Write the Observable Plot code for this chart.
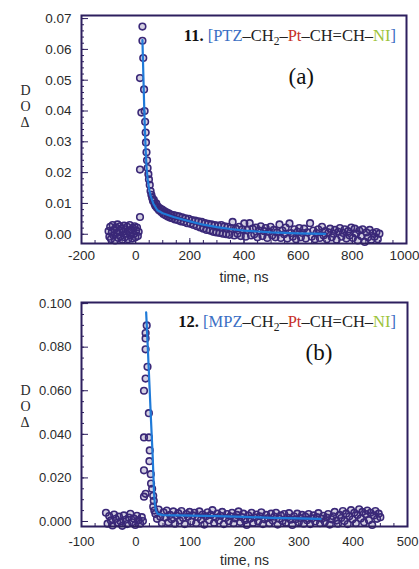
<!DOCTYPE html>
<html><head><meta charset="utf-8">
<script src="https://cdn.jsdelivr.net/npm/d3@7"></script>
<script src="https://cdn.jsdelivr.net/npm/@observablehq/plot@0.6"></script>
<style>
body{margin:0;background:#fff;}
#wrap{position:relative;width:419px;height:569px;overflow:hidden;background:#fff;}
#pa{position:absolute;left:0;top:0;}
#pb{position:absolute;left:0;top:290px;}
</style></head><body><div id="wrap"><div id="pa"></div><div id="pb"></div></div>
<script>
// ---------- Panel (a) data: 11. [PTZ–CH2–Pt–CH=CH–NI] ----------
const aTime = [-100,-97,-94,-91,-88,-85,-82,-79,-76,-73,-70,-67,-64,-61,-58,-55,-52,-49,-46,-43,-40,-37,-34,-31,-28,-25,-22,-19,-16,-13,-10,-7,-4,-1,2,5,8,11,
16,16,16,21,25,25,28,31,33,35,37,38,40,42,44,47,49,52,55,58,61,64,67,70,73,76,79,82,86,90,94,98,102,106,110,114,118,122,126,130,135,140,145,150,155,160,166,172,178,184,190,196,202,208,214,220,226,232,238,244,250,256,262,268,274,280,286,292,298,304,310,316,322,328,334,340,346,352,358,364,370,376,382,388,394,401,406,412,421,426,432,438,444,450,456,462,468,474,480,486,492,498,504,510,516,522,531,536,542,548,554,560,568,574,580,586,592,598,604,610,616,622,628,634,644,650,656,662,668,674,680,688,694,700,706,712,718,724,730,736,742,748,754,760,766,772,778,784,790,796,802,809,814,820,826,832,838,846,852,858,864,870,876,882,889,894,900];
const aDOD = [0.0010,-0.0008,0.0024,-0.0015,0.0006,0.0030,-0.0004,0.0015,-0.0020,0.0022,0.0004,0.0032,-0.0012,0.0012,0.0026,-0.0006,0.0018,-0.0018,0.0008,0.0028,-0.0010,0.0016,0.0002,0.0024,-0.0016,0.0010,0.0030,-0.0004,0.0014,-0.0014,0.0020,0.0000,0.0026,-0.0010,0.0012,0.0022,-0.0006,0.0008,
0.0056,0.0210,0.0507,0.0395,0.0674,0.0628,0.0572,0.0470,0.0400,0.0365,0.0330,0.0298,0.0266,0.0240,0.0215,0.0195,0.0178,0.0160,0.0140,0.0128,0.0118,0.0108,0.0112,0.0098,0.0092,0.0100,0.0085,0.0090,0.0078,0.0084,0.0072,0.0080,0.0066,0.0075,0.0062,0.0071,0.0058,0.0068,0.0054,0.0064,0.0052,0.0062,0.0048,0.0060,0.0046,0.0058,0.0042,0.0055,0.0040,0.0052,0.0036,0.0050,0.0034,0.0046,0.0030,0.0044,0.0026,0.0042,0.0022,0.0040,0.0018,0.0036,0.0014,0.0034,0.0012,0.0032,0.0008,0.0030,0.0006,0.0028,0.0004,0.0030,0.0002,0.0026,0.0000,0.0024,-0.0002,0.0020,0.0040,-0.0004,0.0018,0.0002,0.0024,-0.0006,0.0016,0.0035,-0.0008,0.0014,0.0036,-0.0004,0.0018,0.0000,0.0022,-0.0010,0.0012,0.0026,-0.0006,0.0010,0.0020,-0.0012,0.0008,0.0024,-0.0004,0.0014,-0.0010,0.0006,0.0032,-0.0012,0.0012,0.0000,0.0022,-0.0014,0.0035,0.0004,-0.0008,0.0016,-0.0016,0.0008,0.0020,-0.0010,0.0004,0.0018,-0.0014,0.0006,0.0036,-0.0008,0.0012,-0.0016,0.0004,0.0016,-0.0012,0.0024,-0.0004,0.0010,-0.0016,0.0006,0.0018,-0.0010,0.0002,0.0014,-0.0018,0.0008,0.0020,-0.0008,0.0004,0.0016,-0.0014,0.0010,-0.0004,0.0022,-0.0012,0.0018,0.0002,-0.0020,0.0012,-0.0006,0.0016,-0.0025,0.0006,-0.0010,0.0014,-0.0018,0.0004,-0.0008,0.0007,-0.0016,0.0002];
const aFitTime = [25,28,31,34,37,40,44,50,55,65,80,100,140,200,250,300,350,400,450,500,600,700];
const aFitDOD = [0.0630,0.0530,0.0430,0.0340,0.0270,0.0220,0.0180,0.0145,0.0125,0.0100,0.0078,0.0068,0.0056,0.0042,0.0031,0.0023,0.0017,0.0012,0.0009,0.0006,0.0003,0.0001];
const aXTicks = [-200,0,200,400,600,800,1000];
const aYTicks = [0,0.01,0.02,0.03,0.04,0.05,0.06,0.07];

// ---------- Panel (b) data: 12. [MPZ–CH2–Pt–CH=CH–NI] ----------
const bTime = [-55,-52,-49,-46,-43,-40,-37,-34,-31,-28,-25,-22,-19,-16,-13,-10,-7,-4,-1,2,5,8,11,13,
15,15,15,15,18,18,18,18,18,20,21.5,24,24,25,25.6,27.5,28,30,32,32,33,34,
36,39,42,45,48,51,54,57,60,63,66,69,72,75,78,81,84,87,90,93,96,99,102,105,108,111,114,117,120,123,126,129,132,135,138,141,144,147,150,153,156,159,162,165,168,171,174,177,180,183,186,189,192,195,198,201,204,207,210,213,216,219,222,225,228,231,234,237,240,243,246,249,252,255,258,261,264,267,270,273,276,279,282,285,288,291,294,297,300,303,306,309,312,315,318,321,324,327,330,333,336,339,342,345,348,351,354,357,360,363,366,369,372,375,378,381,384,387,390,393,396,399,402,405,408,411,414,417,420,423,426,429,432,435,438,441,444,447,450];
const bDOD = [0.0040,-0.0010,0.0025,0.0005,-0.0018,0.0032,0.0012,-0.0006,0.0022,0.0000,-0.0020,0.0028,0.0008,-0.0012,0.0018,0.0035,-0.0004,0.0014,-0.0016,0.0026,0.0006,-0.0010,0.0020,0.0002,
0.0114,0.0235,0.0386,0.0600,0.0127,0.0656,0.0790,0.0840,0.0865,0.0900,0.0710,0.0497,0.0386,0.0277,0.0326,0.0217,0.0174,0.0150,0.0118,0.0068,0.0095,0.0050,
0.0035,0.0012,0.0055,0.0022,-0.0008,0.0042,0.0018,0.0050,-0.0004,0.0030,0.0010,0.0046,-0.0010,0.0026,0.0038,0.0004,0.0048,0.0016,-0.0012,0.0034,0.0022,0.0044,0.0000,0.0028,0.0040,-0.0008,0.0020,0.0046,0.0008,0.0032,-0.0014,0.0024,0.0042,0.0006,0.0030,0.0052,-0.0006,0.0018,0.0036,0.0004,0.0026,0.0044,-0.0012,0.0016,0.0034,0.0002,0.0024,0.0040,-0.0008,0.0014,0.0030,0.0046,-0.0002,0.0020,0.0036,0.0006,-0.0016,0.0028,0.0012,0.0040,-0.0006,0.0018,0.0032,0.0000,0.0024,0.0042,-0.0012,0.0010,0.0030,0.0016,-0.0008,0.0036,0.0004,0.0022,0.0040,-0.0014,0.0012,0.0028,0.0002,0.0034,-0.0006,0.0018,0.0038,0.0008,-0.0016,0.0024,0.0010,0.0036,-0.0004,0.0016,0.0030,-0.0010,0.0022,0.0006,0.0034,-0.0012,0.0014,0.0028,0.0000,0.0020,0.0038,-0.0008,0.0012,0.0026,-0.0002,0.0018,0.0034,-0.0014,0.0010,0.0024,0.0044,0.0004,-0.0010,0.0030,0.0016,0.0048,0.0002,0.0036,-0.0012,0.0024,0.0052,0.0010,0.0040,-0.0008,0.0030,0.0056,0.0014,0.0044,-0.0004,0.0034,0.0050,0.0006,0.0040,-0.0016,0.0028,0.0048,0.0012,0.0036,0.0020];
const bFitTime = [19,22,25,28,31,33.5,35,37,40,50,100,150,200,250,300,340];
const bFitDOD = [0.0960,0.0800,0.0630,0.0460,0.0300,0.0130,0.0080,0.0050,0.0035,0.0029,0.0027,0.0025,0.0021,0.0017,0.0014,0.0012];
const bXTicks = [-100,0,100,200,300,400,500];
const bYTicks = [0,0.02,0.04,0.06,0.08,0.10];

const DOT = "#3a2878", FIT = "#1f7ad8", FRAME = "#2d1f5e", INK = "#2a2a2a";

function panel(o) {
  const pts = o.t.map((t, i) => ({t, v: o.v[i]}));
  const fit = o.ft.map((t, i) => ({t, v: o.fv[i]}));
  const last = o.xt[o.xt.length - 1];
  const svg = Plot.plot({
    width: 419, height: o.height,
    marginLeft: 81, marginRight: o.mr, marginTop: o.mt, marginBottom: o.mb,
    style: {fontFamily: "Liberation Sans, Arial, sans-serif", background: "white", color: INK},
    x: {domain: o.xd},
    y: {domain: o.yd},
    marks: [
      Plot.axisY({ticks: o.yMinor, tickSize: 3, dx: 3, fill: "none", stroke: FRAME, label: null}),
      Plot.axisY({ticks: o.yt, tickSize: 7, dx: 7, fill: "none", stroke: FRAME, label: null}),
      Plot.axisY({ticks: o.yt, tickSize: 0, tickPadding: 10, tickFormat: o.yFmt, fontSize: o.fs, fill: INK, label: null}),
      Plot.axisX({ticks: o.xMinor, tickSize: 3, dy: -3, fill: "none", stroke: FRAME, label: null}),
      Plot.axisX({ticks: o.xt, tickSize: 5, dy: -5, fill: "none", stroke: FRAME, label: null}),
      Plot.axisX({ticks: o.xt.slice(0, -1), tickSize: 0, tickPadding: o.xPad, tickFormat: d => String(d), fontSize: o.fs, fill: INK, label: null}),
      Plot.axisX({ticks: [last], tickSize: 0, tickPadding: o.xPad, tickFormat: d => String(d), fontSize: o.fs, fill: INK, label: null, textAnchor: "end", dx: o.lastDx}),
      Plot.dot(pts, {x: "t", y: "v", r: 3.3, stroke: DOT, strokeWidth: 1.6, fill: DOT, fillOpacity: 0.22}),
      Plot.line(fit, {x: "t", y: "v", stroke: FIT, strokeWidth: 2.2}),
      Plot.frame({stroke: FRAME, strokeWidth: 2}),
      Plot.text(["time, ns"], {frameAnchor: "bottom", dy: 38, fontSize: 14, fill: INK}),
      Plot.text(["D\nO\nΔ"], {frameAnchor: "top-left", dx: -61, dy: o.labDy, lineAnchor: "top", lineHeight: 1.15, fontSize: 14, fontFamily: "Liberation Serif, serif", fill: INK}),
      Plot.text([o.tag], {frameAnchor: "top-left", dx: o.tagX, dy: o.tagDy, fontSize: 23, fontFamily: "Liberation Serif, serif", fill: "#111"})
    ]
  });
  const t = d3.select(svg).append("text")
    .attr("x", 396).attr("y", o.titleY).attr("text-anchor", "end")
    .attr("font-family", "Liberation Serif, serif").attr("font-size", 16.5).attr("fill", "#222");
  const parts = [
    [o.num + " ", "#111", "bold"], ["[", "#3b6fc4"], [o.donor, "#3b6fc4"], ["–CH", "#222"],
    ["2", "#222", null, true], ["–", "#222"], ["Pt", "#c8302a"], ["–CH=CH–", "#222"], ["NI", "#9cc43a"], ["]", "#3b6fc4"]
  ];
  for (const [s, c, w, sub] of parts) {
    const sp = t.append("tspan").text(s).attr("fill", c);
    if (w) sp.attr("font-weight", w);
    if (sub) sp.attr("dy", 4).attr("font-size", 11.5);
    else if (s === "–") sp.attr("dy", -4);
  }
  return svg;
}

document.getElementById("pa").appendChild(panel({
  t: aTime, v: aDOD, ft: aFitTime, fv: aFitDOD,
  height: 290, mt: 15, mb: 47, mr: 13, xd: [-200, 1000], yd: [-0.003, 0.071],
  xt: aXTicks, xMinor: d3.range(-200, 1001, 50), yt: aYTicks, yMinor: d3.range(0, 0.0705, 0.002),
  yFmt: d3.format(".2f"), fs: 13.5, xPad: 7, lastDx: 13, labDy: 68, tag: "(a)", tagX: 207, tagDy: 52,
  titleY: 41, num: "11.", donor: "PTZ"
}));
document.getElementById("pb").appendChild(panel({
  t: bTime, v: bDOD, ft: bFitTime, fv: bFitDOD,
  height: 279, mt: 12, mb: 43, mr: 12, xd: [-100, 500], yd: [-0.0023, 0.1005],
  xt: bXTicks, xMinor: d3.range(-100, 501, 25), yt: bYTicks, yMinor: d3.range(0, 0.1001, 0.005),
  yFmt: d3.format(".3f"), fs: 13, xPad: 10, lastDx: 11, labDy: 81, tag: "(b)", tagX: 224, tagDy: 41,
  titleY: 37, num: "12.", donor: "MPZ"
}));
</script></body></html>
